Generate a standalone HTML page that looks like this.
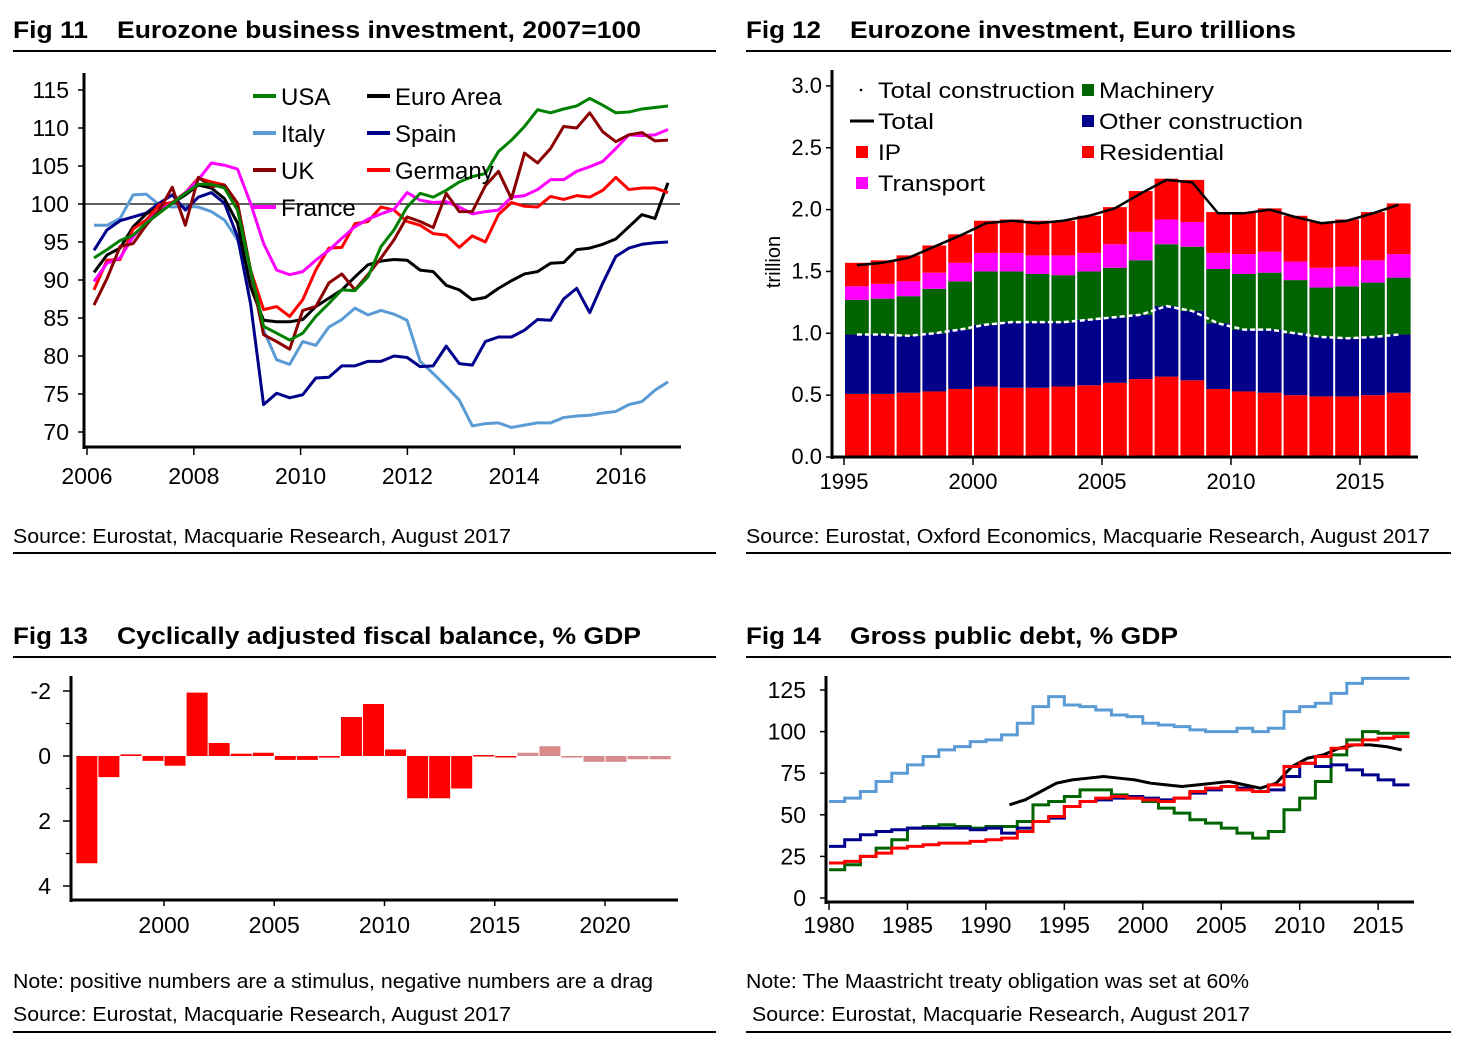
<!DOCTYPE html>
<html><head><meta charset="utf-8">
<style>
body{margin:0;background:#fff;width:1463px;height:1045px;overflow:hidden;font-family:"Liberation Sans",Arial,sans-serif;}
svg{position:absolute;left:0;top:0}
</style></head>
<body>
<svg id="s" width="1463" height="1045" viewBox="0 0 1463 1045" xmlns="http://www.w3.org/2000/svg" font-family="Liberation Sans, Arial, sans-serif">
<g>
<text x="13" y="38" font-size="24" font-weight="bold" textLength="75" lengthAdjust="spacingAndGlyphs">Fig 11</text>
<text x="117" y="38" font-size="24" font-weight="bold" textLength="524" lengthAdjust="spacingAndGlyphs">Eurozone business investment, 2007=100</text>
<line x1="13" y1="51" x2="716" y2="51" stroke="#000" stroke-width="2"/>
<text x="13" y="543" font-size="20" textLength="498" lengthAdjust="spacingAndGlyphs">Source: Eurostat, Macquarie Research, August 2017</text>
<line x1="13" y1="553" x2="716" y2="553" stroke="#000" stroke-width="2"/>
</g>
<g>
<text x="746" y="38" font-size="24" font-weight="bold" textLength="75" lengthAdjust="spacingAndGlyphs">Fig 12</text>
<text x="850" y="38" font-size="24" font-weight="bold" textLength="446" lengthAdjust="spacingAndGlyphs">Eurozone investment, Euro trillions</text>
<line x1="746" y1="51" x2="1451" y2="51" stroke="#000" stroke-width="2"/>
<text x="746" y="543" font-size="20" textLength="684" lengthAdjust="spacingAndGlyphs">Source: Eurostat, Oxford Economics, Macquarie Research, August 2017</text>
<line x1="746" y1="553" x2="1451" y2="553" stroke="#000" stroke-width="2"/>
</g>
<g>
<text x="13" y="644" font-size="24" font-weight="bold" textLength="75" lengthAdjust="spacingAndGlyphs">Fig 13</text>
<text x="117" y="644" font-size="24" font-weight="bold" textLength="524" lengthAdjust="spacingAndGlyphs">Cyclically adjusted fiscal balance, % GDP</text>
<line x1="13" y1="657" x2="716" y2="657" stroke="#000" stroke-width="2"/>
<text x="13" y="988" font-size="20" textLength="640" lengthAdjust="spacingAndGlyphs">Note: positive numbers are a stimulus, negative numbers are a drag</text>
<text x="13" y="1021" font-size="20" textLength="498" lengthAdjust="spacingAndGlyphs">Source: Eurostat, Macquarie Research, August 2017</text>
<line x1="13" y1="1032" x2="716" y2="1032" stroke="#000" stroke-width="2"/>
</g>
<g>
<text x="746" y="644" font-size="24" font-weight="bold" textLength="75" lengthAdjust="spacingAndGlyphs">Fig 14</text>
<text x="850" y="644" font-size="24" font-weight="bold" textLength="328" lengthAdjust="spacingAndGlyphs">Gross public debt, % GDP</text>
<line x1="746" y1="657" x2="1451" y2="657" stroke="#000" stroke-width="2"/>
<text x="746" y="988" font-size="20" textLength="503" lengthAdjust="spacingAndGlyphs">Note: The Maastricht treaty obligation was set at 60%</text>
<text x="752" y="1021" font-size="20" textLength="498" lengthAdjust="spacingAndGlyphs">Source: Eurostat, Macquarie Research, August 2017</text>
<line x1="746" y1="1032" x2="1451" y2="1032" stroke="#000" stroke-width="2"/>
</g>
</svg>
<script>
// ---------- Fig 11 data (quarterly, 2006Q1 onward) ----------
const f11Euro=[91.0,93.3,94.2,97.0,98.7,99.7,100.1,101.2,102.5,102.1,100.7,97.5,89.1,84.7,84.5,84.5,84.8,86.5,87.6,88.7,90.4,92.0,92.5,92.7,92.6,91.3,91.1,89.3,88.7,87.4,87.7,88.9,89.9,90.8,91.1,92.2,92.3,94.0,94.2,94.7,95.4,97.0,98.6,98.1,102.8];
const f11USA=[92.9,94.0,95.2,95.9,97.5,98.8,100.1,101.4,102.6,102.6,102.1,99.2,91.3,83.9,83.0,82.1,83.0,85.2,86.9,88.7,88.6,90.4,94.4,96.6,99.6,101.4,100.9,101.8,102.9,103.6,104.0,106.9,108.4,110.2,112.4,112.0,112.5,112.9,113.9,113.0,112.0,112.1,112.5,112.7,112.9];
const f11Italy=[97.2,97.2,98.1,101.2,101.3,99.9,99.6,99.7,99.6,99.0,97.9,95.3,90.4,83.4,79.5,78.9,81.9,81.4,83.8,84.8,86.3,85.4,86.0,85.5,84.7,79.3,77.7,76.0,74.2,70.8,71.1,71.2,70.6,70.9,71.2,71.2,71.9,72.1,72.2,72.5,72.7,73.6,74.0,75.5,76.6];
const f11Spain=[93.9,96.6,97.8,98.3,98.8,100.1,101.2,99.2,100.9,101.5,100.1,95.7,86.9,73.6,75.1,74.5,74.9,77.1,77.2,78.7,78.7,79.3,79.3,80.0,79.8,78.6,78.7,81.3,79.0,78.8,81.9,82.5,82.5,83.4,84.8,84.7,87.5,88.9,85.7,89.6,93.1,94.2,94.7,94.9,95.0];
const f11UK=[86.7,90.2,94.4,94.8,97.2,99.2,102.2,97.2,103.5,102.3,102.5,100.1,91.3,82.8,81.9,80.9,86.0,86.5,89.6,90.8,88.7,90.7,92.9,95.3,98.3,97.7,96.9,101.4,99.0,99.0,102.4,104.3,100.7,106.7,105.4,107.3,110.2,110.0,112.0,109.5,108.2,109.1,109.4,108.3,108.4];
const f11Germany=[88.7,92.6,92.7,96.7,97.9,99.9,100.2,101.5,103.4,102.9,102.5,100.1,91.3,86.1,86.5,85.2,87.4,91.3,94.2,94.3,97.4,97.7,99.6,99.2,97.7,97.2,96.1,95.9,94.3,95.8,95.0,98.6,100.2,99.7,99.6,101.0,100.6,101.1,100.9,101.8,103.5,101.9,102.1,102.1,101.5];
const f11France=[89.8,92.2,92.9,95.7,97.5,99.2,100.1,101.5,103.2,105.4,105.1,104.6,100.1,94.8,91.3,90.7,91.1,92.6,93.9,95.5,97.0,98.0,98.7,99.3,101.5,100.5,100.2,100.3,99.6,98.7,99.0,99.2,100.9,101.1,101.9,103.2,103.2,104.3,104.9,105.6,107.3,109.1,109.0,109.1,109.8];
const f11YTicks=[70,75,80,85,90,95,100,105,110,115];
const f11XTicks=[2006,2008,2010,2012,2014,2016];

// ---------- Fig 12 data (annual 1995-2016, EUR trn) ----------
const f12Years=[1995,1996,1997,1998,1999,2000,2001,2002,2003,2004,2005,2006,2007,2008,2009,2010,2011,2012,2013,2014,2015,2016];
const f12Residential=[0.51,0.51,0.52,0.53,0.55,0.57,0.56,0.56,0.57,0.58,0.60,0.63,0.65,0.62,0.55,0.53,0.52,0.50,0.49,0.49,0.50,0.52];
const f12OtherConstruction=[0.48,0.48,0.46,0.47,0.48,0.50,0.53,0.53,0.52,0.53,0.53,0.52,0.57,0.56,0.53,0.50,0.51,0.50,0.48,0.47,0.47,0.47];
const f12Machinery=[0.28,0.29,0.32,0.36,0.39,0.43,0.41,0.39,0.38,0.39,0.40,0.44,0.50,0.52,0.44,0.45,0.46,0.43,0.40,0.42,0.44,0.46];
const f12Transport=[0.11,0.12,0.12,0.13,0.15,0.15,0.15,0.15,0.16,0.15,0.19,0.23,0.20,0.20,0.13,0.16,0.17,0.15,0.16,0.16,0.18,0.19];
const f12IP=[0.19,0.19,0.21,0.22,0.23,0.26,0.27,0.28,0.28,0.30,0.30,0.33,0.33,0.34,0.33,0.34,0.35,0.37,0.37,0.38,0.39,0.41];
const f12Total=[1.55,1.57,1.61,1.70,1.79,1.89,1.91,1.89,1.91,1.95,2.01,2.13,2.24,2.22,1.97,1.97,2.00,1.94,1.89,1.91,1.97,2.04];
const f12YTicks=[0.0,0.5,1.0,1.5,2.0,2.5,3.0];
const f12XTicks=[1995,2000,2005,2010,2015];

// ---------- Fig 13 data (% GDP, positive = stimulus, drawn downward) ----------
const f13Years=[1997,1998,1999,2000,2001,2002,2003,2004,2005,2006,2007,2008,2009,2010,2011,2012,2013,2014,2015,2016,2017,2018,2019,2020,2021,2022,2023];
const f13Values=[3.3,0.65,-0.05,0.15,0.3,-1.95,-0.4,-0.07,-0.1,0.12,0.12,0.05,-1.2,-1.6,-0.2,1.3,1.3,1.0,-0.03,0.03,-0.1,-0.3,0.05,0.18,0.18,0.1,0.1];
const f13ForecastFrom=2017;
const f13YTicks=[-2,0,2,4];
const f13XTicks=[2000,2005,2010,2015,2020];

// ---------- Fig 14 data (annual, % GDP) ----------
const f14Years=[1980,1981,1982,1983,1984,1985,1986,1987,1988,1989,1990,1991,1992,1993,1994,1995,1996,1997,1998,1999,2000,2001,2002,2003,2004,2005,2006,2007,2008,2009,2010,2011,2012,2013,2014,2015,2016];
const f14Italy=[58,60,64,70,75,80,85,89,91,94,95,98,105,115,121,116,115,113,110,109,105,104,103,101,100,100,102,100,102,112,115,117,123,129,132,132,132];
const f14Euro=[null,null,null,null,null,null,null,null,null,null,null,56,59,64,69,71,72,73,72,71,69,68,67,68,69,70,68,66,69,79,84,86,90,92,92,91,89];
const f14Germany=[31,35,38,40,41,42,42,42,42,41,42,39,42,46,48,55,58,59,60,61,60,59,60,63,65,67,66,64,65,73,81,79,80,77,74,71,68];
const f14Spain=[17,20,25,30,35,42,43,44,43,42,43,43,46,56,58,61,65,65,62,60,58,54,51,47,45,42,39,36,40,53,60,70,86,95,100,99,99];
const f14France=[21,22,25,27,30,31,32,33,33,34,35,36,40,46,49,55,58,60,61,60,59,58,60,64,66,67,65,64,68,79,81,85,90,92,95,96,97];
const f14YTicks=[0,25,50,75,100,125];
const f14XTicks=[1980,1985,1990,1995,2000,2005,2010,2015];

const NS='http://www.w3.org/2000/svg';
const svg=document.getElementById('s');
function mk(tag,attrs,parent,txt){const e=document.createElementNS(NS,tag);for(const k in attrs)e.setAttribute(k,attrs[k]);if(txt!==undefined)e.textContent=txt;(parent||svg).appendChild(e);return e;}

// ===== Fig 11 =====
(function(){
 const g=mk('g',{});
 
 
 const X=i=>94+i*(668-94)/44;
 const XY=y=>87+(y-2006)*53.4;
 const Y=v=>204+(100-v)*7.6;
 mk('line',{x1:84,y1:204,x2:680,y2:204,stroke:'#000','stroke-width':1.3},g);
 const series=[[f11Italy,'#5b9bd5','italy'],[f11Spain,'#00008b','spain'],[f11Euro,'#000','euro-area'],[f11Germany,'#ff0000','germany'],[f11France,'#ff00ff','france'],[f11UK,'#8b0000','uk'],[f11USA,'#008000','usa']];
 series.forEach(s=>{const p=mk('polyline',{points:s[0].map((v,i)=>X(i)+','+Y(v)).join(' '),fill:'none',stroke:s[1],'stroke-width':3,'stroke-linejoin':'round'},g);
  
  });
 mk('line',{x1:84,y1:73,x2:84,y2:449,stroke:'#000','stroke-width':3},g);
 mk('line',{x1:83,y1:447,x2:681,y2:447,stroke:'#000','stroke-width':3},g);
 f11YTicks.forEach(t=>{mk('line',{x1:78,y1:Y(t),x2:84,y2:Y(t),stroke:'#000','stroke-width':1.5},g);
  const tx=mk('text',{x:69,y:Y(t)+8,'font-size':23,'text-anchor':'end'},g,String(t));
  
  });
 f11XTicks.forEach(t=>{mk('line',{x1:XY(t),y1:447,x2:XY(t),y2:455,stroke:'#000','stroke-width':1.5},g);
  const tx=mk('text',{x:XY(t),y:484,'font-size':23,'text-anchor':'middle'},g,String(t));
  
  });
 const leg=[['USA','#008000',253,96],['Euro Area','#000',367,96],['Italy','#5b9bd5',253,133],['Spain','#00008b',367,133],['UK','#8b0000',253,170],['Germany','#ff0000',367,170],['France','#ff00ff',253,207]];
 leg.forEach(l=>{const e=mk('g',{},g);
  
  
  mk('line',{x1:l[2],y1:l[3],x2:l[2]+23,y2:l[3],stroke:l[1],'stroke-width':4},e);
  mk('text',{x:l[2]+28,y:l[3]+9,'font-size':24},e,l[0]);});
})();

// ===== Fig 12 =====
(function(){
 const g=mk('g',{});
 
 
 const XY=y=>844+(y-1995)*25.8;
 const XC=y=>XY(y)+12.9;
 const Y=v=>457-v*123.7;
 const bw=23.8;
 f12Years.forEach((yr,i)=>{
  const parts=[[f12Residential[i],'#ff0000','residential'],[f12OtherConstruction[i],'#00008b','other-construction'],[f12Machinery[i],'#006400','machinery'],[f12Transport[i],'#ff00ff','transport'],[f12IP[i],'#ff0000','ip']];
  let base=0;
  parts.forEach(p=>{const r=mk('rect',{x:XC(yr)-bw/2,y:Y(base+p[0]),width:bw,height:Y(base)-Y(base+p[0]),fill:p[1]},g);
   
   
   base+=p[0];});
 });
 const tc=mk('polyline',{points:f12Years.map((yr,i)=>XC(yr)+','+Y(f12Residential[i]+f12OtherConstruction[i])).join(' '),fill:'none',stroke:'#fff','stroke-width':2.5,'stroke-dasharray':'5,3'},g);
 
 
 const tl=mk('polyline',{points:f12Years.map((yr,i)=>XC(yr)+','+Y(f12Total[i])).join(' '),fill:'none',stroke:'#000','stroke-width':2.5},g);
 
 
 mk('line',{x1:832,y1:70,x2:832,y2:459,stroke:'#000','stroke-width':3},g);
 mk('line',{x1:831,y1:457,x2:1418,y2:457,stroke:'#000','stroke-width':3},g);
 f12YTicks.forEach(t=>{mk('line',{x1:826,y1:Y(t),x2:832,y2:Y(t),stroke:'#000','stroke-width':1.5},g);
  const tx=mk('text',{x:822,y:Y(t)+7,'font-size':22,'text-anchor':'end'},g,t.toFixed(1));
  
  });
 f12XTicks.forEach(t=>{mk('line',{x1:XY(t),y1:457,x2:XY(t),y2:465,stroke:'#000','stroke-width':1.5},g);
  const tx=mk('text',{x:XY(t),y:489,'font-size':22,'text-anchor':'middle'},g,String(t));
  
  });
 const yt=mk('text',{x:0,y:0,'font-size':20,'text-anchor':'middle',transform:'translate(780,262) rotate(-90)'},g,'trillion');
 
 
 const leg=[['Total construction','dot',858,90,197],['Machinery','#006400',1082,90,115],['Total','line',850,121,56],['Other construction','#00008b',1082,121,204],['IP','#ff0000',856,152,23],['Residential','#ff0000',1082,152,125],['Transport','#ff00ff',856,183,107]];
 leg.forEach(l=>{const e=mk('g',{},g);
  
  
  if(l[1]==='dot')mk('circle',{cx:l[2]+3,cy:l[3],r:1.3,fill:'#000'},e);
  else if(l[1]==='line')mk('line',{x1:l[2],y1:l[3],x2:l[2]+24,y2:l[3],stroke:'#000','stroke-width':3},e);
  else mk('rect',{x:l[2],y:l[3]-6,width:12,height:12,fill:l[1]},e);
  mk('text',{x:l[1]==='line'?878:(l[2]<1000?878:1099),y:l[3]+8,'font-size':22,textLength:l[4],lengthAdjust:'spacingAndGlyphs'},e,l[0]);});
})();

// ===== Fig 13 =====
(function(){
 const g=mk('g',{});
 
 
 const XY=y=>164+(y-2000)*22.05;
 const XC=y=>XY(y)-11;
 const Y=v=>756+v*32.5;
 f13Years.forEach((yr,i)=>{const v=f13Values[i];
  const r=mk('rect',{x:XC(yr)-10.5,y:Math.min(Y(0),Y(v)),width:21,height:Math.max(1.5,Math.abs(Y(v)-Y(0))),fill:yr>=f13ForecastFrom?'#d98a8a':'#ff0000'},g);
  
  });
 mk('line',{x1:71,y1:676,x2:71,y2:902,stroke:'#000','stroke-width':3},g);
 mk('line',{x1:70,y1:900,x2:678,y2:900,stroke:'#000','stroke-width':3},g);
 f13YTicks.forEach(t=>{mk('line',{x1:63,y1:Y(t),x2:71,y2:Y(t),stroke:'#000','stroke-width':1.5},g);
  const tx=mk('text',{x:51,y:Y(t)+8,'font-size':23,'text-anchor':'end'},g,String(t));
  
  });
 [-1,1,3].forEach(t=>mk('line',{x1:66,y1:Y(t),x2:71,y2:Y(t),stroke:'#000','stroke-width':1.2},g));
 f13XTicks.forEach(t=>{mk('line',{x1:XY(t),y1:900,x2:XY(t),y2:906,stroke:'#000','stroke-width':1.5},g);
  const tx=mk('text',{x:XY(t),y:933,'font-size':23,'text-anchor':'middle'},g,String(t));
  
  });
})();

// ===== Fig 14 =====
(function(){
 const g=mk('g',{});
 
 
 const X=y=>829+(y-1980)*15.69;
 const Y=v=>898-v*1.664;
 function step(arr){let pts=[];f14Years.forEach((yr,i)=>{if(arr[i]==null)return;pts.push(X(yr)+','+Y(arr[i]));pts.push(X(yr+1)+','+Y(arr[i]));});return pts.join(' ');}
 function smooth(arr){let pts=[];f14Years.forEach((yr,i)=>{if(arr[i]==null)return;pts.push(X(yr+0.5)+','+Y(arr[i]));});return pts.join(' ');}
 const series=[[f14Italy,'#5b9bd5','italy',step],[f14Spain,'#006400','spain',step],[f14Germany,'#00008b','germany',step],[f14Euro,'#000','euro-area',smooth],[f14France,'#ff0000','france',step]];
 series.forEach(s=>{const p=mk('polyline',{points:s[3](s[0]),fill:'none',stroke:s[1],'stroke-width':3},g);
  
  });
 mk('line',{x1:826,y1:676,x2:826,y2:904,stroke:'#000','stroke-width':3},g);
 mk('line',{x1:825,y1:902,x2:1414,y2:902,stroke:'#000','stroke-width':3},g);
 f14YTicks.forEach(t=>{mk('line',{x1:820,y1:Y(t),x2:826,y2:Y(t),stroke:'#000','stroke-width':1.5},g);
  const tx=mk('text',{x:806,y:Y(t)+8,'font-size':23,'text-anchor':'end'},g,String(t));
  
  });
 f14XTicks.forEach(t=>{mk('line',{x1:X(t),y1:902,x2:X(t),y2:910,stroke:'#000','stroke-width':1.5},g);
  const tx=mk('text',{x:X(t),y:933,'font-size':23,'text-anchor':'middle'},g,String(t));
  
  });
})();
</script>
</body></html>
